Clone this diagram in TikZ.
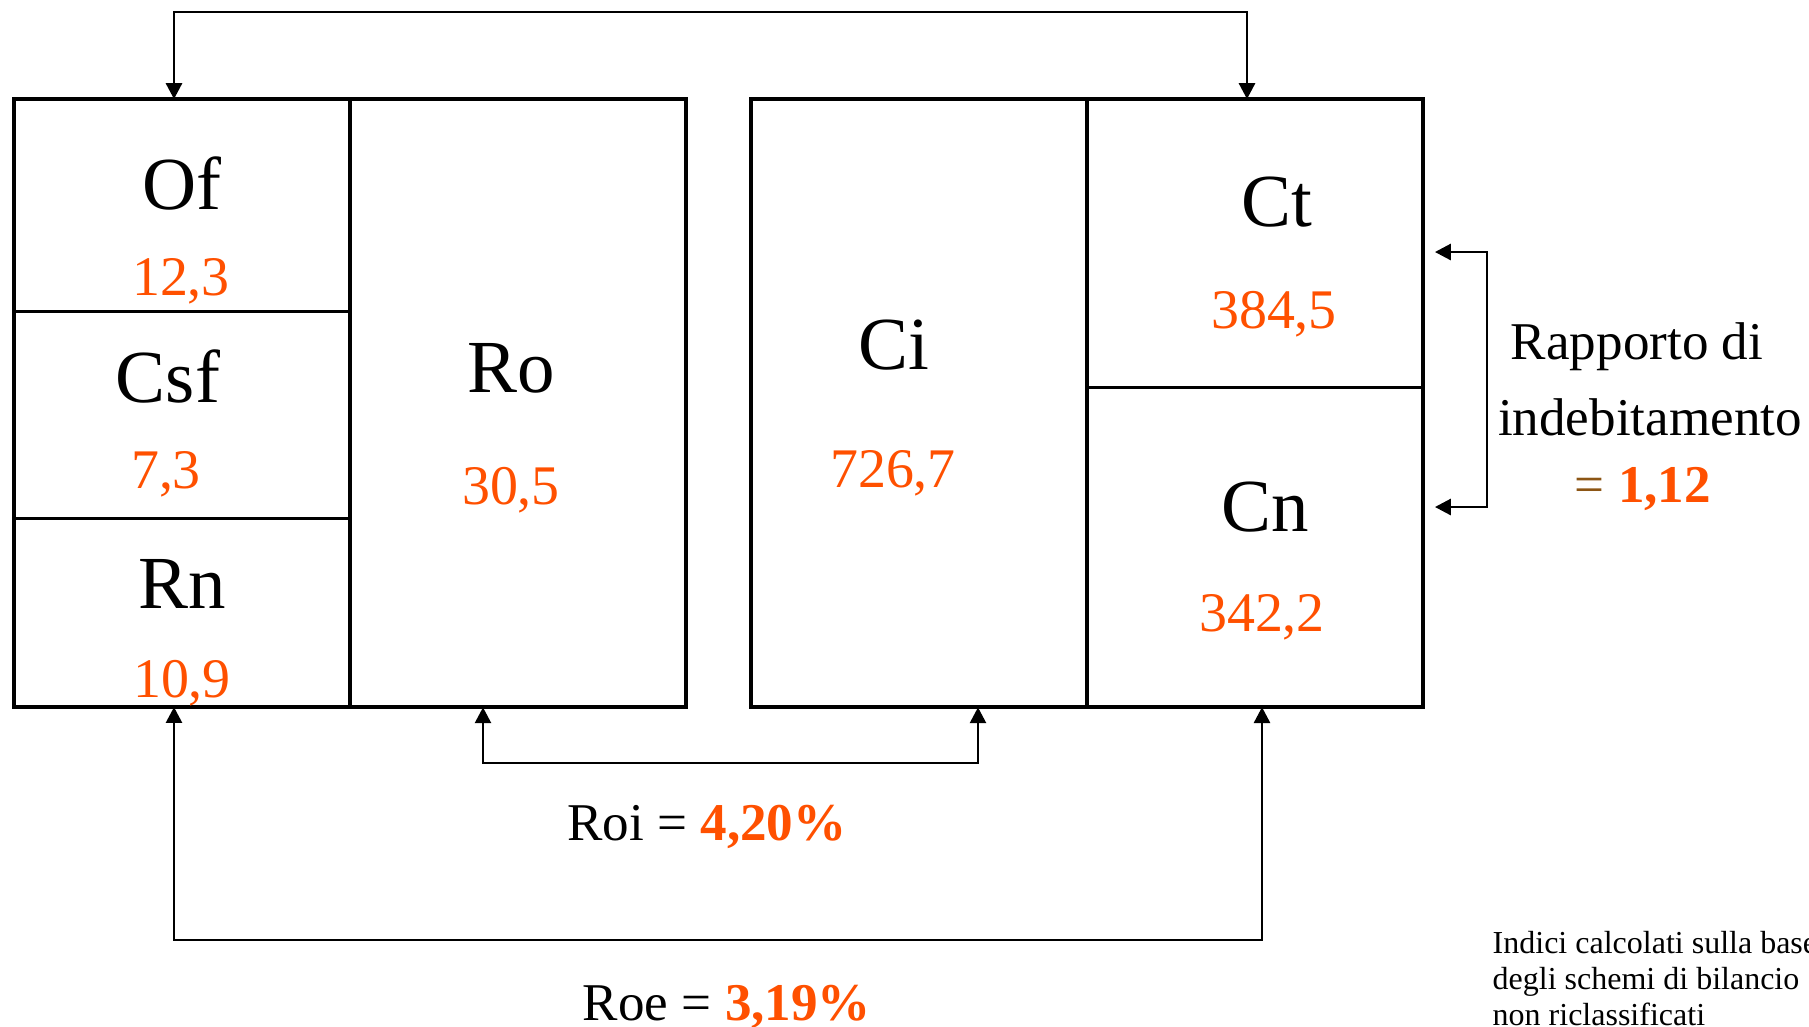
\documentclass[tikz,border=0pt]{standalone}
\usepackage{fontspec}
\setmainfont{Liberation Serif}
\usetikzlibrary{arrows.meta}
\definecolor{numorange}{RGB}{255,80,0}
\definecolor{eqbrown}{RGB}{140,85,20}
\tikzstyle{cell} = [draw, line width=0.8pt, inner sep=0pt, outer sep=0pt, anchor=north west, minimum width=3.36cm]
\tikzstyle{frame} = [line width=1.15pt]
\tikzstyle{link} = [line width=0.6pt, {Triangle[length=4.5pt,width=4.6pt]}-{Triangle[length=4.5pt,width=4.6pt]}]
\tikzstyle{lbl} = [anchor=base, inner sep=0pt, font=\fontsize{21.3}{24}\selectfont]
\tikzstyle{num} = [anchor=base, inner sep=0pt, text=numorange, font=\fontsize{15.9}{18}\selectfont]
\tikzstyle{txt} = [anchor=base, inner sep=0pt, font=\fontsize{15.1}{18}\selectfont]
\tikzstyle{note} = [anchor=base west, inner sep=0pt, font=\fontsize{9.1}{10.5}\selectfont]

\begin{document}
\begin{tikzpicture}[x=0.01cm, y=-0.01cm]
      \useasboundingbox (0,0) rectangle (1809,1026);
      \clip (0,0) rectangle (1809,1026);
      % left side
      \node[cell, minimum height=2.12cm] (of) at (14,99) {};
      \node[cell, minimum height=2.07cm] (csf) at (14,311) {};
      \node[cell, minimum height=1.89cm] (rn) at (14,518) {};
      \node[cell, minimum height=6.08cm] (ro) at (350,99) {};
      % right side
      \node[cell, minimum height=6.08cm] (ci) at (751,99) {};
      \node[cell, minimum height=2.88cm] (ct) at (1087,99) {};
      \node[cell, minimum height=3.20cm] (cn) at (1087,387) {};
      \draw[frame] (of.north west) rectangle (ro.south east);
      \draw[frame] (of.north east) -- (rn.south east);
      \draw[frame] (ci.north west) rectangle (cn.south east);
      \draw[frame] (ci.north east) -- (ci.south east);
      % labels
      \node[lbl] (oflbl) at (182,209) {Of};
      \node[num] (ofnum) at (181,295) {12,3};
      \node[lbl] (csflbl) at (168,402) {Csf};
      \node[num] (csfnum) at (166,488) {7,3};
      \node[lbl] (rnlbl) at (182,608) {Rn};
      \node[num] (rnnum) at (182,697) {10,9};
      \node[lbl] (rolbl) at (511,392) {Ro};
      \node[num] (ronum) at (511,504) {30,5};
      \node[lbl] (cilbl) at (894,369) {Ci};
      \node[num] (cinum) at (893,487) {726,7};
      \node[lbl] (ctlbl) at (1277,226) {Ct};
      \node[num] (ctnum) at (1274,328) {384,5};
      \node[lbl] (cnlbl) at (1265,531) {Cn};
      \node[num] (cnnum) at (1262,631) {342,2};
      % connectors
      \draw[link] (of.north -| 174,0) -- ++(0,-87) -| (ct.north -| 1247,0);
      \draw[link] (ro.south -| 483,0) -- ++(0,56) -| (ci.south -| 978,0);
      \draw[link] (rn.south -| 174,0) -- ++(0,233) -| (cn.south -| 1262,0);
      \coordinate (dtop) at (1435,252);
      \coordinate (dbot) at (1435,507);
      \draw[link] (dtop) -- ++(52,0) |- (dbot);
      % ratios
      \node[txt] (roi) at (707,840) {Roi = \textcolor{numorange}{\textbf{4,20\%}}};
      \node[txt] (roe) at (727,1020) {Roe = \textcolor{numorange}{\textbf{3,19\%}}};
      \node[txt] (rap1) at (1637,359) {Rapporto di};
      \node[txt] (rap2) at (1650,435) {indebitamento};
      \node[txt] (rap3) at (1643,502) {\textcolor{eqbrown}{=} \textcolor{numorange}{\textbf{1,12}}};
      \node[note] (note1) at (1492,953) {Indici calcolati sulla base};
      \node[note] (note2) at (1492,989) {degli schemi di bilancio};
      \node[note] (note3) at (1492,1025) {non riclassificati};
    \end{tikzpicture}
\end{document}
